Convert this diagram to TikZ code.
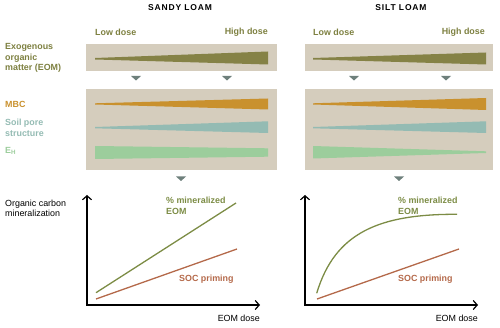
\documentclass[tikz,border=0pt]{standalone}
\usepackage{fontspec}
\setmainfont{Liberation Sans}
\usetikzlibrary{arrows.meta}
\definecolor{olivetxt}{HTML}{7D8040}
\definecolor{olivewedge}{HTML}{858246}
\definecolor{boxbg}{HTML}{D5CDBD}
\definecolor{mbc}{HTML}{C9912E}
\definecolor{soil}{HTML}{94BBB3}
\definecolor{eh}{HTML}{9CCD9C}
\definecolor{marker}{HTML}{6E807C}
\definecolor{greenline}{HTML}{7C8C45}
\definecolor{brownline}{HTML}{B4694A}
\begin{document}
\begin{tikzpicture}[x=1pt,y=-1pt,
  lbl/.style={font=\fontsize{8.9}{10.5}\selectfont\bfseries, inner sep=0pt, anchor=west, align=left},
  plain/.style={font=\fontsize{8.9}{10.5}\selectfont, inner sep=0pt, align=left},
  ttl/.style={font=\fontsize{8.5}{10.5}\selectfont\bfseries\addfontfeature{LetterSpace=10}, inner sep=0pt},
  panel/.style={fill=boxbg, draw=none},
  markertri/.style={fill=marker, draw=none},
  axis/.style={line width=1.2pt, {Straight Barb[length=4pt,width=9pt]}-{Straight Barb[length=4pt,width=9pt]}},
  curve/.style={line width=1.3pt}
]
\useasboundingbox (0,0) rectangle (500,328);

% titles
\node[ttl] (t1) at (180,8) {SANDY LOAM};
\node[ttl] (t2) at (401,8) {SILT LOAM};

% dose labels
\node[lbl, text=olivetxt] (low1) at (95,32) {Low dose};
\node[lbl, text=olivetxt, anchor=east] (high1) at (268,32) {High dose};
\node[lbl, text=olivetxt] (low2) at (313,32) {Low dose};
\node[lbl, text=olivetxt, anchor=east] (high2) at (485,32) {High dose};

% row labels
\node[lbl, text=olivetxt] (eom) at (5,58) {Exogenous\\organic\\matter (EOM)};
\node[lbl, text=mbc] (mbcl) at (5,104) {MBC};
\node[lbl, text=soil] (soill) at (5,128) {Soil pore\\structure};
\node[lbl, text=eh] (ehl) at (5,151) {E\textsubscript{H}};

% top panels
\fill[panel] (86,44) rectangle (277,71);
\fill[panel] (305,44) rectangle (493,71);
\fill[olivewedge] (95,58) -- (268,51.5) -- (268,64.5) -- (95,59.5) -- cycle;
\fill[olivewedge] (313,58) -- (486,52.5) -- (486,64.5) -- (313,59.5) -- cycle;

% markers
\foreach \cx in {136,227,354,446}
  \fill[markertri] (\cx-5,76) -- (\cx+5,76) -- (\cx,80.5) -- cycle;

% middle panels
\fill[panel] (86,89) rectangle (277,170);
\fill[panel] (305,89) rectangle (493,170);
% left
\fill[mbc] (95,103.3) -- (268,98.5) -- (268,109.5) -- (95,104.5) -- cycle;
\fill[soil] (95,127) -- (268,121.3) -- (268,133) -- (95,128.3) -- cycle;
\fill[eh] (95,146) -- (268,148.3) -- (268,156.7) -- (95,159) -- cycle;
% right
\fill[mbc] (313,103.3) -- (486,98) -- (486,110) -- (313,104.5) -- cycle;
\fill[soil] (313,127) -- (486,121.3) -- (486,133) -- (313,128.3) -- cycle;
\fill[eh] (313,146) -- (486,151.3) -- (486,153) -- (313,158.5) -- cycle;

% lower markers
\foreach \cx in {181,399}
  \fill[markertri] (\cx-5,176.5) -- (\cx+5,176.5) -- (\cx,181) -- cycle;

% y label
\node[plain, anchor=west] (ocm) at (5,208.5) {Organic carbon\\mineralization};

% axes
\coordinate (ya) at (87,195);
\coordinate (xa) at (260,305);
\coordinate (yb) at (305,195);
\coordinate (xb) at (478,305);
\draw[axis] (ya) |- (xa);
\draw[axis] (yb) |- (xb);
\node[plain, anchor=east] (xl1) at (260,318) {EOM dose};
\node[plain, anchor=east] (xl2) at (478,318) {EOM dose};

% left plot
\coordinate (g1s) at (96,292.7);
\coordinate (g1e) at (236,203);
\coordinate (b1s) at (96,299);
\coordinate (b1e) at (237,249);
\draw[curve, greenline] (g1s) -- (g1e);
\draw[curve, brownline] (b1s) -- (b1e);
\node[lbl, text=greenline] (m1) at (166,206) {\% mineralized\\EOM};
\node[lbl, text=brownline] (s1) at (179,279) {SOC priming};

% right plot
\coordinate (g2s) at (316.7,293.3);
\coordinate (g2e) at (457,214.3);
\coordinate (b2s) at (317,299);
\coordinate (b2e) at (459,249);
\draw[curve, greenline] (g2s) .. controls (335,232) and (380,214) .. (g2e);
\draw[curve, brownline] (b2s) -- (b2e);
\node[lbl, text=greenline] (m2) at (398,206) {\% mineralized\\EOM};
\node[lbl, text=brownline] (s2) at (398,279) {SOC priming};
\end{tikzpicture}
\end{document}
